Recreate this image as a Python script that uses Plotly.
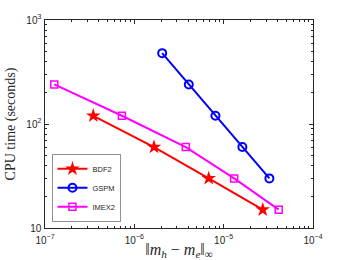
import plotly.graph_objects as go

bdf2_err = [3.47e-7, 1.66e-6, 6.8e-6, 2.74e-5]
bdf2_time = [120, 60, 30, 15]
gspm_err = [2.05e-6, 4.07e-6, 8.09e-6, 1.62e-5, 3.25e-5]
gspm_time = [480, 240, 120, 60, 30]
imex2_err = [1.27e-7, 7.26e-7, 3.77e-6, 1.31e-5, 4.13e-5]
imex2_time = [240, 120, 60, 30, 15]

fig = go.Figure()
fig.add_trace(go.Scatter(x=bdf2_err, y=bdf2_time, name="BDF2", mode="lines+markers",
                         line=dict(color="#ff0000", width=2),
                         marker=dict(symbol="star", size=11, color="#ff0000")))
fig.add_trace(go.Scatter(x=gspm_err, y=gspm_time, name="GSPM", mode="lines+markers",
                         line=dict(color="#0000ff", width=2),
                         marker=dict(symbol="circle-open", size=8, color="#0000ff",
                                     line=dict(width=2, color="#0000ff"))))
fig.add_trace(go.Scatter(x=imex2_err, y=imex2_time, name="IMEX2", mode="lines+markers",
                         line=dict(color="#ff00ff", width=2),
                         marker=dict(symbol="square-open", size=7, color="#ff00ff",
                                     line=dict(width=1.5, color="#ff00ff"))))

axis_common = dict(type="log", showline=True, linecolor="#262626", linewidth=1,
                   mirror="allticks", ticks="inside", ticklen=4, tickcolor="#262626",
                   showgrid=False, zeroline=False, dtick=1, exponentformat="power",
                   automargin=False,
                   tickfont=dict(family="Liberation Sans, Arial", size=8, color="#262626"),
                   minor=dict(ticks="inside", ticklen=2, tickcolor="#262626", showgrid=False))

fig.update_layout(
    width=346, height=260,
    margin=dict(l=45, r=33, t=20, b=32),
    paper_bgcolor="white", plot_bgcolor="white",
    xaxis=dict(range=[-7, -4], ticklabelstandoff=3,
               title=dict(text="‖<i>m</i><sub><i>h</i></sub> − <i>m</i><sub><i>e</i></sub>‖<sub>∞</sub>",
                          font=dict(family="Liberation Serif, serif", size=16, color="#262626"),
                          standoff=9),
               **axis_common),
    yaxis=dict(range=[1, 3], ticklabelstandoff=1,
               title=dict(text="CPU time (seconds)",
                          font=dict(family="Liberation Serif, serif", size=14, color="#262626"),
                          standoff=7),
               **axis_common),
    legend=dict(x=0.026, y=0.03, xanchor="left", yanchor="bottom",
                bgcolor="white", bordercolor="#262626", borderwidth=0.5,
                font=dict(family="Liberation Sans, Arial", size=7.5, color="#262626"),
                itemwidth=30, tracegroupgap=0),
    showlegend=True,
)

fig.write_html("out.html", config={"displayModeBar": False},
               post_script="document.body.style.margin='0';document.body.style.overflow='hidden';")
